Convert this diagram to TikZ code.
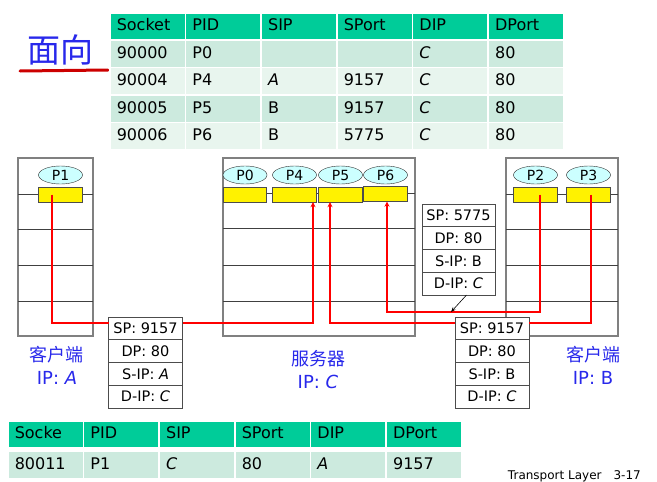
\documentclass[tikz,border=0pt]{standalone}
\usepackage{fontspec}
\setmainfont{DejaVu Sans}
\newfontfamily\cjkfont{Noto Sans CJK SC}
\usepackage{xcolor}
\usetikzlibrary{arrows.meta,positioning,shapes.geometric}

\definecolor{hdgreen}{RGB}{0,204,153}
\definecolor{rowdark}{RGB}{204,234,222}
\definecolor{rowlight}{RGB}{232,245,238}
\definecolor{procblue}{RGB}{204,255,255}
\definecolor{labelblue}{RGB}{40,40,235}

\begin{document}
\begin{tikzpicture}[
    x=1pt, y=-1pt,
    every node/.style={font=\fontsize{16}{18}\selectfont},
    cell/.style={
      anchor=north west, draw=white, line width=1.5pt,
      minimum height=27.4pt, text width=62pt, inner xsep=7pt, inner ysep=0pt,
      align=left, text height=12pt, text depth=3pt
    },
    headcell/.style={cell, fill=hdgreen},
    darkcell/.style={cell, fill=rowdark},
    lightcell/.style={cell, fill=rowlight},
    hostbox/.style={draw=black!50, line width=1.2pt},
    layerline/.style={black!75, line width=0.8pt},
    proc/.style={ellipse, draw=black!80, fill=procblue, minimum width=44pt,
      minimum height=18pt, inner sep=0pt, font=\fontsize{14}{16}\selectfont},
    sock/.style={rectangle, draw=black!70, fill=yellow, minimum width=44pt,
      minimum height=15pt, inner sep=0pt},
    pkt/.style={rectangle, draw=black!70, fill=white, line width=0.8pt,
      minimum width=74pt, minimum height=22.75pt, inner sep=0pt, outer sep=0pt,
      font=\fontsize{14.5}{16}\selectfont},
    hostlabel/.style={align=center, text=labelblue, font=\fontsize{18}{23}\selectfont},
    flow/.style={red, line width=1.8pt},
    flowin/.style={flow, -{Stealth[length=5pt, width=5pt]}}
  ]
    \useasboundingbox (0,0) rectangle (657,482);

    % ── Title ──
    \node[anchor=west, inner sep=0pt, text=labelblue,
          font=\cjkfont\fontsize{33}{33}\selectfont] (title) at (27,50) {面向};
    \draw[red!80!black, line width=3pt, line cap=round] (20,71) -- (108,70);

    % ── Server socket table ──
    \foreach \txt [count=\i from 0] in {Socket,PID,SIP,SPort,DIP,DPort}
      \node[headcell] (thead\i) at (109+75.67*\i,12) {\txt};
    \foreach \txt [count=\i from 0] in {90000,P0,{},{},\textit{C},80}
      \node[darkcell] (trowa\i) at (109+75.67*\i,39.4) {\txt};
    \foreach \txt [count=\i from 0] in {90004,P4,\textit{A},9157,\textit{C},80}
      \node[lightcell] (trowb\i) at (109+75.67*\i,66.8) {\txt};
    \foreach \txt [count=\i from 0] in {90005,P5,B,9157,\textit{C},80}
      \node[darkcell] (trowc\i) at (109+75.67*\i,94.2) {\txt};
    \foreach \txt [count=\i from 0] in {90006,P6,B,5775,\textit{C},80}
      \node[lightcell] (trowd\i) at (109+75.67*\i,121.6) {\txt};

    % ── Hosts ──
    \draw[hostbox] (18,158) rectangle (93,336);
    \foreach \yy in {194,229,265,301} \draw[layerline] (18,\yy) -- (93,\yy);
    \draw[hostbox] (223,158) rectangle (415,336);
    \foreach \yy in {193,228,265,301} \draw[layerline] (223,\yy) -- (415,\yy);
    \draw[hostbox] (506,158) rectangle (618,336);
    \foreach \yy in {194,229,265,301} \draw[layerline] (506,\yy) -- (618,\yy);

    % ── Processes and sockets ──
    \node[proc] (P1) at (60.5,175) {P1};
    \node[sock] (s1) at (60.5,194.5) {};
    \node[proc] (P0) at (245,175) {P0};
    \node[sock, minimum width=43pt] (s0) at (244.5,194.5) {};
    \node[proc] (P4) at (294.5,175) {P4};
    \node[sock] (s4) at (294.5,194.5) {};
    \node[proc] (P5) at (340.5,175) {P5};
    \node[sock] (s5) at (340.5,194.5) {};
    \node[proc] (P6) at (385.5,175) {P6};
    \node[sock] (s6) at (385,194) {};
    \node[proc] (P2) at (535.5,175) {P2};
    \node[sock] (s2) at (535.5,194.5) {};
    \node[proc] (P3) at (588.5,175) {P3};
    \node[sock] (s3) at (588.5,194.5) {};

    % ── Segments ──
    \node[pkt] (pktA1) at (145.5,328.4) {SP: 9157};
    \node[pkt, below=0pt of pktA1] (pktA2) {DP: 80};
    \node[pkt, below=0pt of pktA2] (pktA3) {S-IP: \textit{A}};
    \node[pkt, below=0pt of pktA3] (pktA4) {D-IP: \textit{C}};

    \node[pkt] (pktB1) at (492,328.4) {SP: 9157};
    \node[pkt, below=0pt of pktB1] (pktB2) {DP: 80};
    \node[pkt, below=0pt of pktB2] (pktB3) {S-IP: B};
    \node[pkt, below=0pt of pktB3] (pktB4) {D-IP: \textit{C}};

    \node[pkt, minimum width=73pt] (pktC1) at (458.5,215.4) {SP: 5775};
    \node[pkt, minimum width=73pt, below=0pt of pktC1] (pktC2) {DP: 80};
    \node[pkt, minimum width=73pt, below=0pt of pktC2] (pktC3) {S-IP: B};
    \node[pkt, minimum width=73pt, below=0pt of pktC3] (pktC4) {D-IP: \textit{C}};

    % ── Host labels ──
    \node[hostlabel] (labA) at (57,365) {{\cjkfont 客户端}\\IP: \textit{A}};
    \node[hostlabel] (labC) at (318,370) {{\cjkfont 服务器}\\IP: \textit{C}};
    \node[hostlabel] (labB) at (593,365) {{\cjkfont 客户端}\\IP: B};

    % ── Demultiplexing paths ──
    \coordinate (hit) at (451,312);
    \draw[flow] ([xshift=-8.5pt]s1.center) |- ([yshift=5.5pt]pktA1.west);
    \draw[flowin] ([yshift=5.5pt]pktA1.east) -| ([xshift=18.5pt]s4.south);
    \draw[flow] ([xshift=2.5pt]s3.center) |- ([yshift=5.5pt]pktB1.east);
    \draw[flowin] ([yshift=5.5pt]pktB1.west) -| ([xshift=-10.5pt]s5.south);
    \draw[flowin] ([xshift=4.5pt]s2.center) |- (hit) -| ([xshift=2pt]s6.south);
    \draw[-{Stealth[length=5pt]}, line width=0.6pt] ([xshift=8pt]pktC4.south) -- (hit);

    % ── Client socket table ──
    \foreach \txt [count=\i from 0] in {Socke,PID,SIP,SPort,DIP,DPort}
      \node[headcell, minimum height=27pt] (bhead\i) at (7+75.67*\i,420) {\txt};
    \foreach \txt [count=\i from 0] in {80011,P1,\textit{C},80,\textit{A},9157}
      \node[darkcell, minimum height=28pt] (brow\i) at (7+75.67*\i,450) {\txt};

    \node[anchor=base east, inner sep=0pt, font=\fontsize{12}{14}\selectfont]
      (footer) at (641,479) {Transport Layer\quad 3-17};
\end{tikzpicture}
\end{document}
